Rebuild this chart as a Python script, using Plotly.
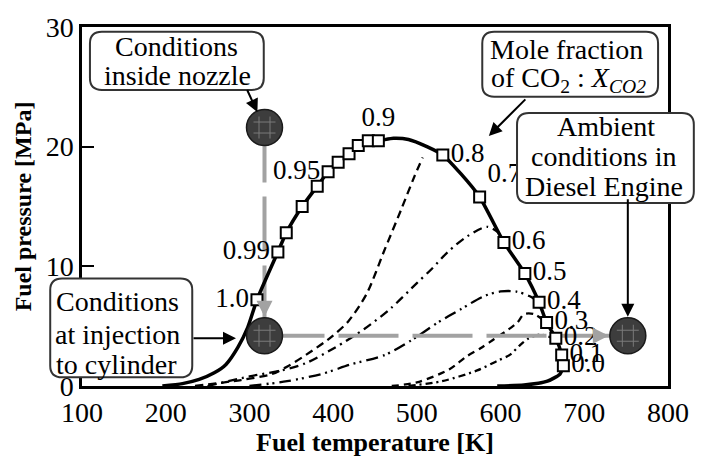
import plotly.graph_objects as go

# ---------------- data ----------------
# critical locus / phase envelope (thick solid line)
env_T = [196, 220, 240, 258, 272, 286, 298, 309, 334, 344, 363, 381, 394, 406, 419, 430, 442, 454,
         472, 490, 512, 531, 553, 575, 604, 629, 646, 655, 666, 673, 675, 671, 656, 628, 596]
env_P = [0, 0.2, 0.55, 1.1, 1.8, 3.2, 4.9, 7.2, 11.2, 12.8, 15.0, 16.7, 17.9, 18.7, 19.4, 20.1, 20.5, 20.5,
         20.7, 20.6, 20.0, 19.3, 17.7, 15.8, 12.0, 9.4, 7.0, 5.3, 4.0, 2.6, 1.7, 1.0, 0.4, 0.08, 0]

# mixture critical points for each CO2 mole fraction
crit_X = ["1.0", "0.99", "0.98", "0.97", "0.96", "0.95", "0.94", "0.93", "0.92", "0.91", "0.9",
          "0.8", "0.7", "0.6", "0.5", "0.4", "0.3", "0.2", "0.1", "0.0"]
crit_label = ["1.0", "0.99", "", "", "", "0.95", "", "", "", "", "0.9",
              "0.8", "0.7", "0.6", "0.5", "0.4", "0.3", "0.2", "0.1", "0.0"]
crit_T = [309, 334, 344, 363, 381, 394, 406, 419, 430, 442, 454, 531, 575, 604, 629, 646, 655, 666, 673, 675]
crit_P = [7.2, 11.2, 12.8, 15.0, 16.7, 17.9, 18.7, 19.4, 20.1, 20.5, 20.5, 19.3, 15.8, 12.0, 9.4, 7.0, 5.3, 4.0, 2.6, 1.7]
crit_pos = ["middle left", "middle left", "middle left", "middle left", "middle left", "middle left",
            "middle left", "middle left", "middle left", "middle left", "top center",
            "middle right", "top right", "middle right", "middle right", "middle right", "middle right",
            "middle right", "middle right", "middle right"]

# phase envelopes of individual mixtures (thin broken lines)
curveA_T = [235, 290, 327, 347, 374, 398, 418, 440, 461, 481, 497, 507]
curveA_P = [0, 0.5, 1.0, 1.7, 2.9, 4.1, 5.4, 7.7, 11.3, 14.7, 17.5, 19.1]
curveB_T = [250, 300, 338, 367, 402, 438, 469, 500, 518, 537, 560, 584, 598]
curveB_P = [0, 0.8, 1.3, 1.9, 3.2, 4.8, 6.5, 8.6, 9.8, 11.2, 12.5, 13.3, 12.8]
curveC_T = [300, 345, 386, 421, 462, 493, 525, 552, 580, 600, 618, 635, 646]
curveC_P = [0, 0.4, 1.0, 1.8, 2.6, 3.8, 5.3, 6.4, 7.5, 7.9, 7.9, 7.5, 7.0]
curveD_T = [470, 500, 539, 560, 576, 592, 605, 620, 628, 640, 655]
curveD_P = [0, 0.3, 1.4, 2.5, 3.15, 3.9, 4.5, 5.3, 6.0, 6.0, 5.3]
curveE_T = [490, 530, 572, 596, 611, 623, 634, 648, 662]
curveE_P = [0, 0.4, 1.3, 2.1, 2.6, 3.4, 4.0, 4.3, 4.0]

# operating conditions
nozzle_T, nozzle_P = 318, 21.6
inject_T, inject_P = 318, 4.2
ambient_T, ambient_P = 752, 4.2

x_ticks = [100, 200, 300, 400, 500, 600, 700, 800]
y_ticks = [0, 10, 20, 30]

# ---------------- layout constants ----------------
W, H = 701, 463
ML, MR, MT, MB = 82, 29, 18, 74
PW, PH = W - ML - MR, H - MT - MB
SERIF = "Liberation Serif"


def fx(px):
    return (px - ML) / PW


def fy(py):
    return (H - MB - py) / PH


def rounded_box(x0, y0, x1, y1, r=12):
    X0, X1, YT, YB = fx(x0), fx(x1), fy(y0), fy(y1)
    rx, ry = r / PW, r / PH
    return (f"M {X0+rx},{YT} L {X1-rx},{YT} Q {X1},{YT} {X1},{YT-ry} "
            f"L {X1},{YB+ry} Q {X1},{YB} {X1-rx},{YB} L {X0+rx},{YB} "
            f"Q {X0},{YB} {X0},{YB+ry} L {X0},{YT-ry} Q {X0},{YT} {X0+rx},{YT} Z")


fig = go.Figure()

# thin broken curves
for T, P, dash in [(curveA_T, curveA_P, "8px,5px"),
                   (curveB_T, curveB_P, "9px,5px,2px,5px"),
                   (curveC_T, curveC_P, "12px,5px,2px,4px,2px,5px"),
                   (curveD_T, curveD_P, "7px,5px"),
                   (curveE_T, curveE_P, "7px,4px,2px,4px")]:
    fig.add_trace(go.Scatter(x=T, y=P, mode="lines", line=dict(color="black", width=2.3, dash=dash, shape="spline", smoothing=0.8),
                             showlegend=False, hoverinfo="skip"))

# grey dashed process paths
fig.add_trace(go.Scatter(x=[nozzle_T, inject_T], y=[nozzle_P, inject_P], mode="lines",
                         line=dict(color="#a2a2a2", width=4, dash="55px,14px"), showlegend=False, hoverinfo="skip"))
fig.add_trace(go.Scatter(x=[inject_T, ambient_T], y=[inject_P, ambient_P], mode="lines",
                         line=dict(color="#a2a2a2", width=4, dash="60px,14px"), showlegend=False, hoverinfo="skip"))

# envelope
fig.add_trace(go.Scatter(x=env_T, y=env_P, mode="lines", line=dict(color="black", width=3.5, shape="spline", smoothing=0.6),
                         showlegend=False, hoverinfo="skip"))

# critical points with labels
fig.add_trace(go.Scatter(x=crit_T, y=crit_P, mode="markers+text", text=crit_label, textposition=crit_pos,
                         customdata=crit_X,
                         textfont=dict(family=SERIF, size=27, color="black"),
                         marker=dict(symbol="square", size=11, color="white", line=dict(color="black", width=2)),
                         showlegend=False))

# spheres
sph_T = [nozzle_T, inject_T, ambient_T]
sph_P = [nozzle_P, inject_P, ambient_P]
fig.add_trace(go.Scatter(x=sph_T, y=sph_P, mode="markers",
                         marker=dict(symbol="circle", size=36, color="#3d3d3d", line=dict(color="#1a1a1a", width=1.5)),
                         showlegend=False, hoverinfo="skip"))
fig.add_trace(go.Scatter(x=sph_T, y=sph_P, mode="markers",
                         marker=dict(symbol="hash-open", size=22, color="#7a7a7a", line=dict(color="#7a7a7a", width=1)),
                         showlegend=False, hoverinfo="skip"))

shapes = []
annotations = []

boxes = [
    ((90, 23, 265, 83), [("Conditions", 177, 38), ("inside nozzle", 178, 68)]),
    ((485, 23, 662, 90), [("Mole fraction", 570, 41), ("of CO<sub>2</sub> : <i>X</i><sub><i>CO2</i></sub>", 572, 72)]),
    ((520, 107, 698, 200), [("Ambient", 610, 121), ("conditions in", 607, 152), ("Diesel Engine", 608, 183)]),
    ((50, 278, 193, 380), [("Conditions", 118, 302), ("at injection", 118, 336), ("to cylinder", 117, 367)]),
]
for (x0, y0, x1, y1), lines in boxes:
    shapes.append(dict(type="path", xref="paper", yref="paper", path=rounded_box(x0, y0, x1, y1),
                       fillcolor="white", line=dict(color="#333333", width=2), layer="above"))
    for txt, cx, cy in lines:
        annotations.append(dict(xref="paper", yref="paper", x=fx(cx), y=fy(cy), text=txt, showarrow=False,
                                xanchor="center", yanchor="middle",
                                font=dict(family=SERIF, size=28, color="black")))

# black arrows from boxes
arrow_style = dict(showarrow=True, text="", arrowhead=2, arrowsize=1.3, arrowwidth=2, arrowcolor="black")
annotations.append(dict(xref="x", yref="y", x=nozzle_T, y=nozzle_P, ax=-18, ay=-39, standoff=17, **arrow_style))
annotations.append(dict(xref="x", yref="y", x=586, y=20.9, ax=38, ay=-38, standoff=0, **arrow_style))
annotations.append(dict(xref="x", yref="y", x=ambient_T, y=ambient_P, ax=0, ay=-138, standoff=19, **arrow_style))
annotations.append(dict(xref="x", yref="y", x=284, y=4.0, ax=-44, ay=0, standoff=0, **arrow_style))

# grey arrow heads
grey_style = dict(showarrow=True, text="", arrowhead=2, arrowsize=0.8, arrowwidth=4, arrowcolor="#a2a2a2")
annotations.append(dict(xref="x", yref="y", x=inject_T, y=inject_P, ax=0, ay=-36, standoff=19, **grey_style))
annotations.append(dict(xref="x", yref="y", x=ambient_T, y=ambient_P, ax=-36, ay=0, standoff=19, **grey_style))

fig.update_layout(
    width=W, height=H,
    margin=dict(l=ML, r=MR, t=MT, b=MB, pad=0),
    paper_bgcolor="white", plot_bgcolor="white",
    font=dict(family=SERIF, color="black"),
    shapes=shapes, annotations=annotations,
    showlegend=False,
    xaxis=dict(range=[100, 800], tickvals=x_ticks, ticktext=[str(v) for v in x_ticks],
               showgrid=False, zeroline=False, showline=True, linecolor="black", linewidth=2.5, mirror=True,
               ticks="", tickfont=dict(family=SERIF, size=28, color="black"),
               title=dict(text="<b>Fuel temperature [K]</b>", font=dict(family=SERIF, size=26, color="black"), standoff=4)),
    yaxis=dict(range=[0, 30], tickvals=y_ticks, ticktext=[str(v) for v in y_ticks],
               showgrid=False, zeroline=False, showline=True, linecolor="black", linewidth=2.5, mirror=True,
               ticks="inside", ticklen=12, tickwidth=2, tickcolor="black",
               tickfont=dict(family=SERIF, size=28, color="black"),
               title=dict(text="<b>Fuel pressure [MPa]</b>", font=dict(family=SERIF, size=24, color="black"), standoff=8)),
)

fig.write_html("out.html")
